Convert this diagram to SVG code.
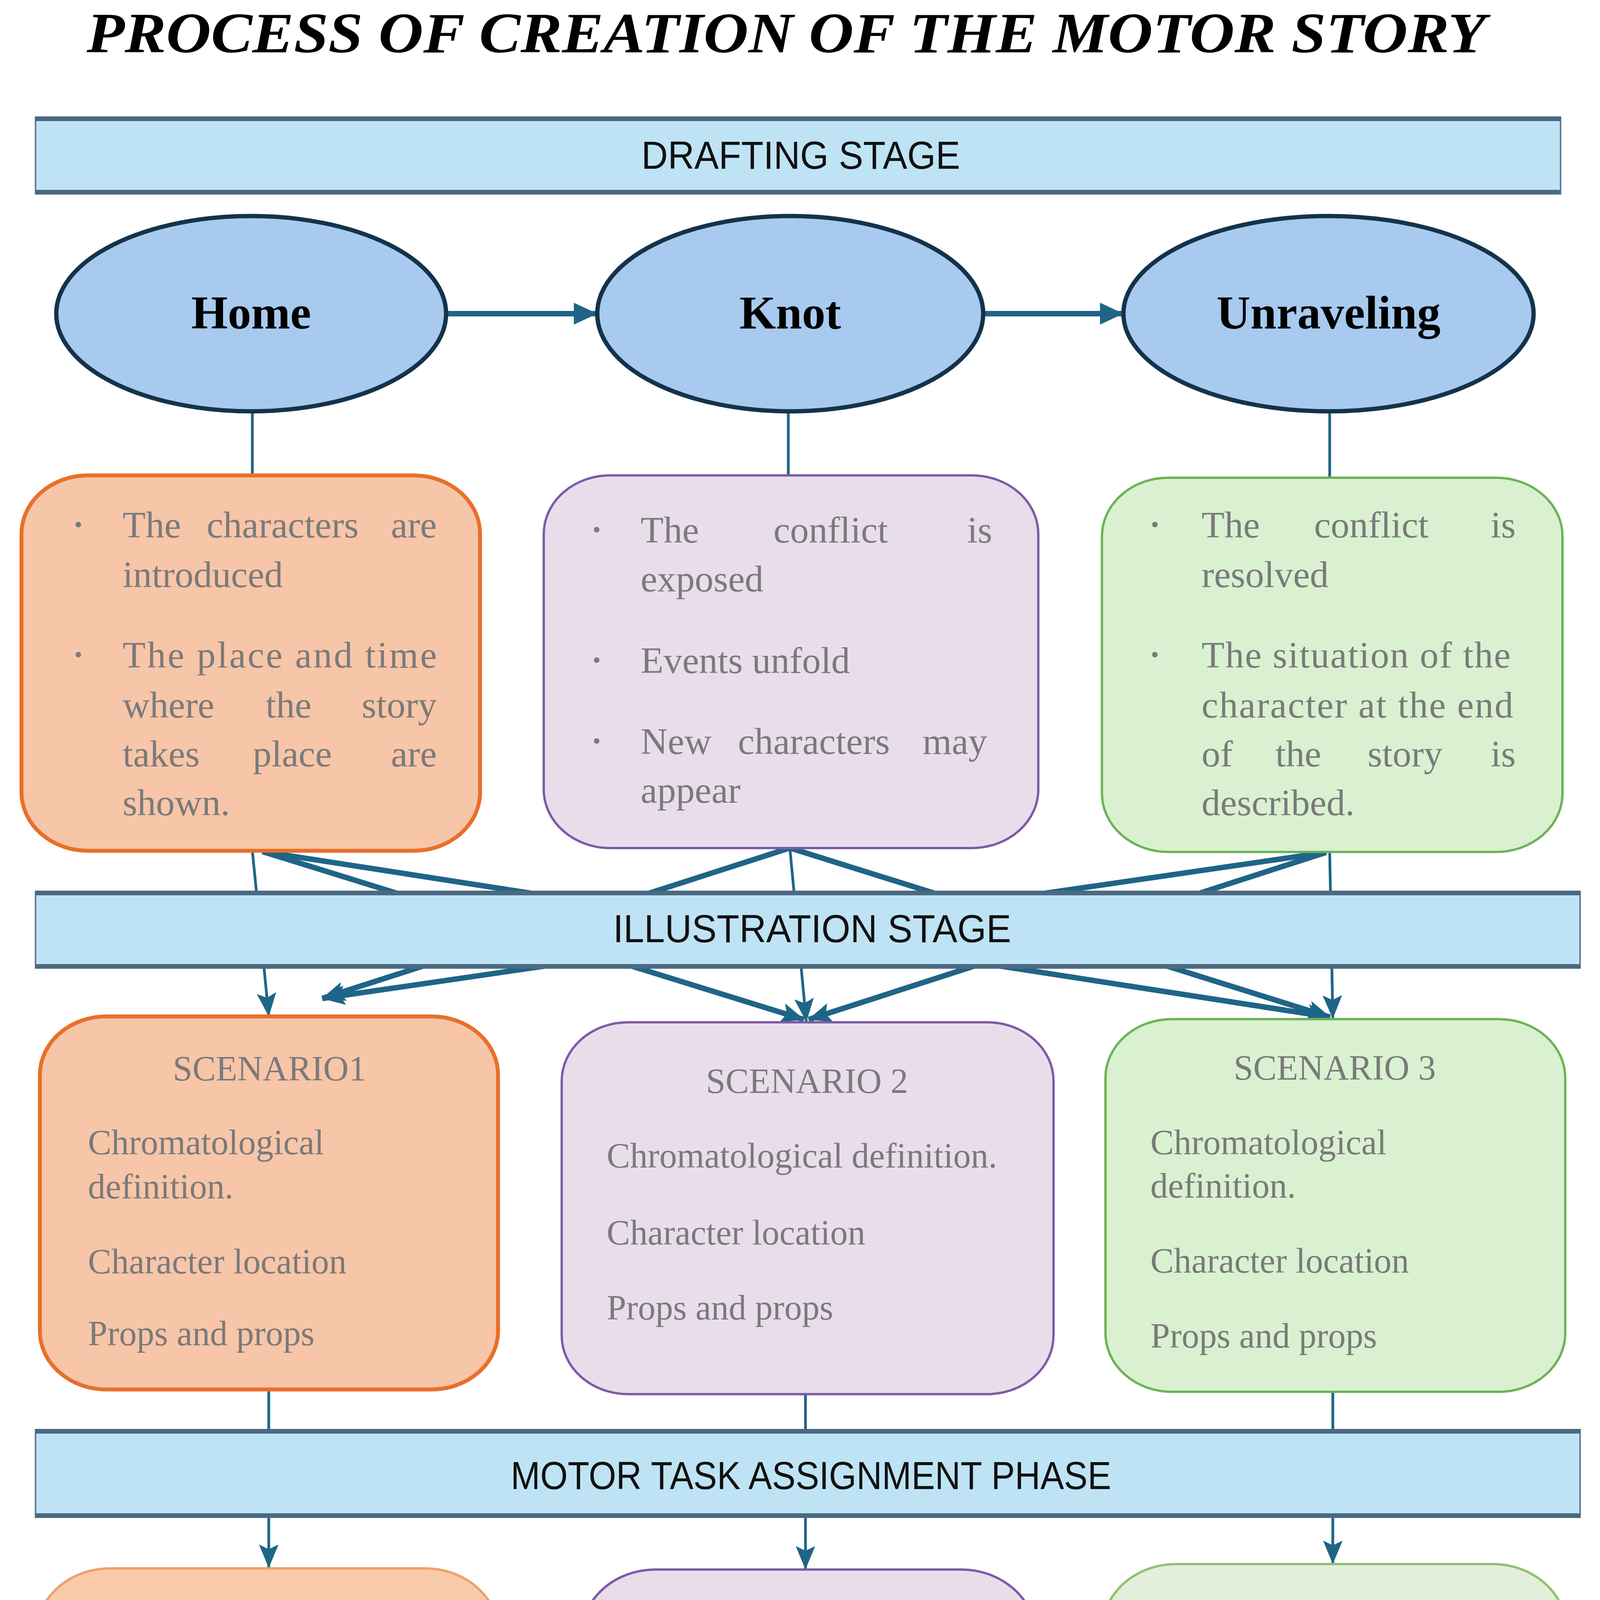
<svg xmlns="http://www.w3.org/2000/svg" width="4099" height="5245" viewBox="0 0 4099 5245">
<style>
.bar{fill:#BEE3F5;stroke:#5B7C95;stroke-width:4}
.barline{stroke:#4B6A82;stroke-width:12}
.bartxt{font-family:"Liberation Sans",Arial,sans-serif;font-size:100px;fill:#111;text-anchor:middle}
.ell{fill:#A8CAEE;stroke:#14334B;stroke-width:11}
.elltxt{font-family:"Liberation Serif","Times New Roman",serif;font-weight:bold;font-size:120px;text-anchor:middle;fill:#000}
.t{font-family:"Liberation Serif","Times New Roman",serif;fill:#7a7a7a}
.t1{font-size:96px}
.t2{font-size:90px}
.bul{font-size:60px}
.end{text-anchor:end}
.mid{text-anchor:middle}
.or{fill:#F7C5A8;stroke:#E8702A;stroke-width:10}
.pu{fill:#E9DDEC;stroke:#7D5BA6;stroke-width:6}
.gr{fill:#D9F1D0;stroke:#6DB356;stroke-width:6}
.or2{fill:#F8CAA9;stroke:#F0A06A;stroke-width:6}
.gr2{fill:#E2EFDA;stroke:#8FC26F;stroke-width:6}
.thin{stroke:#1F6587;stroke-width:7;fill:none}
.thick{stroke:#1F6587;stroke-width:14;fill:none}
</style>
<defs>
<marker id="ah" viewBox="0 0 60 56" refX="58" refY="28" markerWidth="60" markerHeight="56" markerUnits="userSpaceOnUse" orient="auto"><path d="M0,0 L60,28 L0,56 Z" fill="#1F6587"/></marker>
<marker id="ah2" viewBox="0 0 60 50" refX="58" refY="25" markerWidth="60" markerHeight="50" markerUnits="userSpaceOnUse" orient="auto"><path d="M0,0 L60,25 L0,50 L12,25 Z" fill="#1F6587"/></marker>
</defs>
<rect width="4099" height="5245" fill="#ffffff"/>

<g id="title">
<text x="222" y="134" font-family="'Liberation Serif','Times New Roman',serif" font-weight="bold" font-style="italic" font-size="146" fill="#000" textLength="3582" lengthAdjust="spacingAndGlyphs">PROCESS OF CREATION OF THE MOTOR STORY</text>
</g>

<g id="connectors">
<line class="thick" x1="1142" y1="803" x2="1527" y2="803" marker-end="url(#ah)"/>
<line class="thick" x1="2519" y1="803" x2="2874" y2="803" marker-end="url(#ah)"/>
<line class="thin" x1="646" y1="1053" x2="646" y2="1217"/>
<line class="thin" x1="2018" y1="1053" x2="2018" y2="1217"/>
<line class="thin" x1="3404" y1="1053" x2="3404" y2="1223"/>
<line class="thin" x1="646" y1="2178" x2="688" y2="2600" marker-end="url(#ah2)"/>
<line class="thin" x1="2022" y1="2171" x2="2064" y2="2614" marker-end="url(#ah2)"/>
<line class="thin" x1="3404" y1="2181" x2="3412" y2="2606" marker-end="url(#ah2)"/>
<line class="thick" x1="672" y1="2180" x2="2058" y2="2610" marker-end="url(#ah2)"/>
<line class="thick" x1="672" y1="2180" x2="3405" y2="2604" marker-end="url(#ah2)"/>
<line class="thick" x1="2018" y1="2172" x2="825" y2="2556" marker-end="url(#ah2)"/>
<line class="thick" x1="2026" y1="2172" x2="3405" y2="2604" marker-end="url(#ah2)"/>
<line class="thick" x1="3395" y1="2182" x2="825" y2="2556" marker-end="url(#ah2)"/>
<line class="thick" x1="3395" y1="2182" x2="2070" y2="2610" marker-end="url(#ah2)"/>
<line class="thin" x1="688" y1="3557" x2="688" y2="4012" marker-end="url(#ah2)"/>
<line class="thin" x1="2062" y1="3569" x2="2062" y2="4016" marker-end="url(#ah2)"/>
<line class="thin" x1="3412" y1="3563" x2="3412" y2="4002" marker-end="url(#ah2)"/>
</g>

<g id="drafting-stage">
<rect class="bar" x="91" y="300" width="3904" height="196"/>
<line class="barline" x1="91" y1="304" x2="3995" y2="304"/>
<line class="barline" x1="91" y1="492" x2="3995" y2="492"/>
<text class="bartxt" x="2050" y="432" textLength="816" lengthAdjust="spacingAndGlyphs">DRAFTING STAGE</text>
</g>

<g id="home">
<ellipse class="ell" cx="643" cy="803" rx="499" ry="250"/>
<text class="elltxt" x="643" y="841">Home</text>
</g>
<g id="knot">
<ellipse class="ell" cx="2023" cy="803" rx="494" ry="250"/>
<text class="elltxt" x="2023" y="841">Knot</text>
</g>
<g id="unraveling">
<ellipse class="ell" cx="3401" cy="803" rx="525" ry="250"/>
<text class="elltxt" x="3401" y="841">Unraveling</text>
</g>

<g id="home-box">
<rect class="or" x="55" y="1217" width="1174" height="961" rx="170" ry="150"/>
<text class="t bul" x="190" y="1363">•</text>
<text class="t t1" y="1376"><tspan x="314">The</tspan><tspan x="529">characters</tspan><tspan x="1118" class="end">are</tspan></text>
<text class="t t1" x="314" y="1503">introduced</text>
<text class="t bul" x="190" y="1696">•</text>
<text class="t t1" x="314" y="1709" textLength="804" lengthAdjust="spacing">The place and time</text>
<text class="t t1" y="1837"><tspan x="314">where</tspan><tspan x="680">the</tspan><tspan x="1118" class="end">story</tspan></text>
<text class="t t1" y="1962"><tspan x="314">takes</tspan><tspan x="647">place</tspan><tspan x="1118" class="end">are</tspan></text>
<text class="t t1" x="314" y="2087">shown.</text>
</g>

<g id="knot-box">
<rect class="pu" x="1392" y="1217" width="1266" height="954" rx="170" ry="150"/>
<text class="t bul" x="1517" y="1376">•</text>
<text class="t t1" y="1389"><tspan x="1640">The</tspan><tspan x="1980">conflict</tspan><tspan x="2540" class="end">is</tspan></text>
<text class="t t1" x="1640" y="1514">exposed</text>
<text class="t bul" x="1517" y="1710">•</text>
<text class="t t1" x="1640" y="1723">Events unfold</text>
<text class="t bul" x="1517" y="1917">•</text>
<text class="t t1" y="1930"><tspan x="1640">New</tspan><tspan x="1889">characters</tspan><tspan x="2527" class="end">may</tspan></text>
<text class="t t1" x="1640" y="2055">appear</text>
</g>

<g id="unraveling-box">
<rect class="gr" x="2821" y="1223" width="1179" height="958" rx="170" ry="150"/>
<text class="t bul" x="2946" y="1363">•</text>
<text class="t t1" y="1376"><tspan x="3076">The</tspan><tspan x="3364">conflict</tspan><tspan x="3880" class="end">is</tspan></text>
<text class="t t1" x="3076" y="1503">resolved</text>
<text class="t bul" x="2946" y="1696">•</text>
<text class="t t1" x="3076" y="1709" textLength="791" lengthAdjust="spacing">The situation of the</text>
<text class="t t1" x="3076" y="1837" textLength="798" lengthAdjust="spacing">character at the end</text>
<text class="t t1" y="1962"><tspan x="3076">of</tspan><tspan x="3265">the</tspan><tspan x="3501">story</tspan><tspan x="3880" class="end">is</tspan></text>
<text class="t t1" x="3076" y="2087">described.</text>
</g>

<g id="illustration-stage">
<rect class="bar" x="91" y="2282" width="3954" height="196"/>
<line class="barline" x1="91" y1="2286" x2="4045" y2="2286"/>
<line class="barline" x1="91" y1="2474" x2="4045" y2="2474"/>
<text class="bartxt" x="2079" y="2412" textLength="1019" lengthAdjust="spacingAndGlyphs">ILLUSTRATION STAGE</text>
</g>

<g id="scenario1-illustration">
<rect class="or" x="102" y="2602" width="1173" height="955" rx="170" ry="150"/>
<text class="t t2 mid" x="690" y="2766">SCENARIO1</text>
<text class="t t2" x="225" y="2955">Chromatological</text>
<text class="t t2" x="225" y="3068">definition.</text>
<text class="t t2" x="225" y="3260">Character location</text>
<text class="t t2" x="225" y="3444">Props and props</text>
</g>

<g id="scenario2-illustration">
<rect class="pu" x="1438" y="2617" width="1259" height="952" rx="170" ry="150"/>
<text class="t t2 mid" x="2066" y="2798">SCENARIO 2</text>
<text class="t t2" x="1553" y="2989">Chromatological definition.</text>
<text class="t t2" x="1553" y="3186">Character location</text>
<text class="t t2" x="1553" y="3378">Props and props</text>
</g>

<g id="scenario3-illustration">
<rect class="gr" x="2830" y="2609" width="1177" height="954" rx="170" ry="150"/>
<text class="t t2 mid" x="3417" y="2764">SCENARIO 3</text>
<text class="t t2" x="2945" y="2955">Chromatological</text>
<text class="t t2" x="2945" y="3066">definition.</text>
<text class="t t2" x="2945" y="3258">Character location</text>
<text class="t t2" x="2945" y="3450">Props and props</text>
</g>

<g id="motor-task-phase">
<rect class="bar" x="91" y="3660" width="3954" height="224"/>
<line class="barline" x1="91" y1="3664" x2="4045" y2="3664"/>
<line class="barline" x1="91" y1="3880" x2="4045" y2="3880"/>
<text class="bartxt" x="2076" y="3812" textLength="1537" lengthAdjust="spacingAndGlyphs">MOTOR TASK ASSIGNMENT PHASE</text>
</g>

<g id="scenario1-motor">
<rect class="or2" x="92" y="4015" width="1186" height="1175" rx="190" ry="170"/>
<text class="t t2 mid" x="678" y="4185">SCENARIO 1</text>
<text class="t t2" x="225" y="4377">A.MLaterality</text>
<text class="t t2" x="225" y="4569">A.M Body schemaBasic</text>
<text class="t t2" x="242" y="4764">B.MPostural-tonic</text>
<text class="t t2" x="225" y="4875">control</text>
<text class="t t2" x="225" y="5068">Spatial organization</text>
</g>

<g id="scenario2-motor">
<rect class="pu" x="1488" y="4018" width="1163" height="1175" rx="190" ry="170"/>
<text class="t t2 mid" x="2066" y="4171">SCENARIO 2</text>
<text class="t t2" x="1610" y="4365">A.MLaterality</text>
<text class="t t2" x="1610" y="4558">A.M Body schemaBasic</text>
<text class="t t2" x="1627" y="4747">B.MPostural-tonic</text>
<text class="t t2" x="1610" y="4857">control</text>
<text class="t t2" x="1610" y="5058">Spatial organization</text>
</g>

<g id="scenario3-motor">
<rect class="gr2" x="2821" y="4004" width="1190" height="1180" rx="190" ry="170"/>
<text class="t t2 mid" x="3417" y="4160">SCENARIO 3</text>
<text class="t t2" x="2945" y="4352">A.MLaterality</text>
<text class="t t2" x="2945" y="4548">A.M Body schemaBasic</text>
<text class="t t2" x="2962" y="4741">B.MPostural-tonic</text>
<text class="t t2" x="2945" y="4852">control</text>
<text class="t t2" x="2945" y="5046">Spatial organization</text>
</g>
</svg>
